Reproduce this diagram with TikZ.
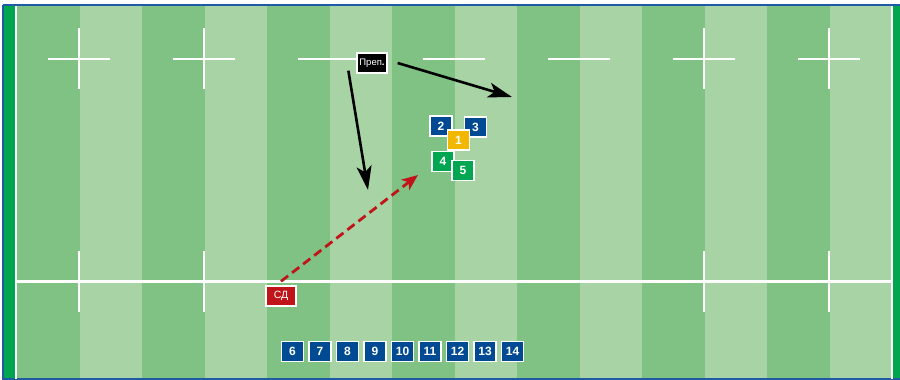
\documentclass[tikz,border=0pt]{standalone}
\usepackage{fontspec}
\setmainfont{Liberation Sans}
\usetikzlibrary{arrows.meta}
\definecolor{cdark}{HTML}{80C283}
\definecolor{clight}{HTML}{A8D3A4}
\definecolor{cedge}{HTML}{00A54F}
\definecolor{cframe}{HTML}{1F5AA6}
\definecolor{cblue}{HTML}{004A93}
\definecolor{cgold}{HTML}{F2B700}
\definecolor{cgreen}{HTML}{00A650}
\definecolor{cred}{HTML}{C0141B}
\tikzset{
  every picture/.style={x=1pt, y=-1pt},
  player/.style={draw=white, line width=1.3pt, text=white, inner sep=0pt,
    font=\bfseries\fontsize{12}{12}\selectfont,
    minimum width=22pt, minimum height=20pt},
  tag/.style={player, font=\fontsize{10.5}{10.5}\selectfont, minimum width=30pt},
  run/.style={line width=2.6pt, -{Stealth[length=24pt,width=15pt,inset=6pt]}},
  pass/.style={cred, line width=2.8pt, dash pattern=on 9pt off 5pt,
    -{Stealth[length=16pt,width=13pt,inset=4pt]}},
  pitchline/.style={white, line width=2.6pt},
}
\def\xl{17}     % left touch line
\def\xr{892}    % right touch line
\def\sw{62.5}   % stripe width
\def\ytop{59}   % upper line of crosses
\def\ymid{281.5}% lower line
\newcommand{\pitch}{% stripes, touch lines, markings
  \fill[cedge] (3,5) rectangle (902,379);
  \fill[clight] (\xl,6) rectangle (\xr,379);
  \foreach \i in {0,2,...,12}
    \fill[cdark] ({\xl+\i*\sw},6) rectangle ({\xl+(\i+1)*\sw},379);
  \draw[cframe, line width=2.4pt] (3,5) -- (902,5);
  \draw[cframe, line width=2.4pt] (3,5) -- (3,379) -- (902,379);
  \draw[pitchline] (16,6) -- (16,379);
  \draw[pitchline] (\xr,6) -- (\xr,379);
  \foreach \x in {79,204,704,829} {
    \draw[pitchline] (\x-31,\ytop) -- (\x+31,\ytop);
    \draw[pitchline] (\x,\ytop-31) -- (\x,\ytop+30);
    \draw[pitchline] (\x,\ymid-31) -- (\x,\ymid+30);
  }
  \foreach \x in {329,454,579}
    \draw[pitchline] (\x-31,\ytop) -- (\x+31,\ytop);
  \draw[pitchline] (\xl,\ymid) -- (\xr,\ymid);
}

\begin{document}
\begin{tikzpicture}
  \path[use as bounding box] (0,0) rectangle (900,380);
  \pitch
  % staff
  \node[tag, fill=black, font=\fontsize{9.5}{9.5}\selectfont] (coach) at (372,63) {Преп\textbf{.}};
  \node[tag, fill=cred] (sd) at (281,296) {СД};
  % group on the field
  \node[player, fill=cblue] (p2) at (441,126) {2};
  \node[player, fill=cblue] (p3) at (475.5,127) {3};
  \node[player, fill=cgold] (p1) at (458.5,140) {1};
  \node[player, fill=cgreen] (p4) at (443,161.7) {4};
  \node[player, fill=cgreen] (p5) at (463,170.7) {5};
  % substitutes
  \foreach \n in {6,...,14}
    \node[player, fill=cblue] (b\n) at ({292.5+27.5*(\n-6)},351.3) {\n};
  % movements
  \coordinate (t1) at (368,190);
  \coordinate (t2) at (512,97);
  \coordinate (t3) at (418,175);
  \draw[run] ([xshift=-8pt,yshift=3pt]coach.south west) -- (t1);
  \draw[run] ([xshift=10pt]coach.east) -- (t2);
  \draw[pass] ([yshift=4pt]sd.north) -- (t3);
\end{tikzpicture}
\end{document}
